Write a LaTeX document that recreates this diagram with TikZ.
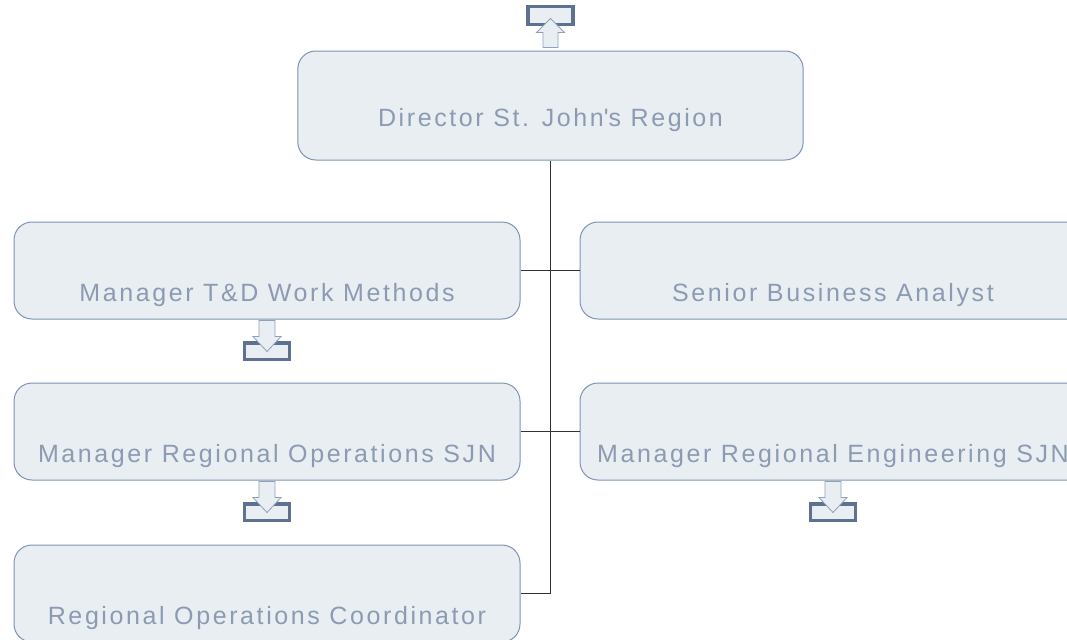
\documentclass[tikz,border=0pt]{standalone}
\usepackage{fontspec}
\setmainfont[LetterSpace=10.4]{Liberation Sans}
\definecolor{boxfill}{HTML}{E9EEF2}
\definecolor{boxline}{HTML}{7F93B5}
\definecolor{boxtext}{HTML}{8C9BB2}
\definecolor{iconline}{HTML}{5E7191}
\definecolor{arrowline}{HTML}{8FA0BA}
\definecolor{linkline}{HTML}{333333}
\tikzset{
  box/.style={draw=boxline, fill=boxfill, line width=0.75pt, rounded corners=13.5pt,
    minimum width=379.5pt, minimum height=72.75pt, text=boxtext, font=\fontsize{18.75}{22}\selectfont,
    text height=50.3pt, text depth=4pt},
  topbox/.style={box, minimum width=379pt, minimum height=81.75pt, text height=34.8pt},
  link/.style={draw=linkline, line width=0.75pt},
  downicon/.pic={
    \draw[iconline, fill=boxfill, line width=2.6pt] (-22.75,23.5) rectangle (22.75,40.2);
    \draw[arrowline, fill=boxfill, line width=0.6pt]
      (-8,1) -- (8,1) -- (8,17) -- (14,17) -- (0,32) -- (-14,17) -- (-8,17) -- cycle;
  },
  upicon/.pic={
    \draw[iconline, fill=boxfill, line width=2.6pt] (-22.5,-44.2) rectangle (22.5,-25.8);
    \draw[arrowline, fill=boxfill, line width=0.6pt]
      (-7.5,-3) -- (7.5,-3) -- (7.5,-18) -- (14,-18) -- (0,-32) -- (-14,-18) -- (-7.5,-18) -- cycle;
  }
}
\begin{document}
\begin{tikzpicture}[x=0.75pt, y=-0.75pt]
    \useasboundingbox (0,0) rectangle (1067,639);
    \clip (0,0) rectangle (1067,639);

    \node[topbox] (dir) at (550.5,105.5) {Director St. John\textquotesingle s Region};
    \node[box] (tdm)  at (267,270.5) {Manager T\&D Work Methods};
    \node[box] (sba)  at (833,270.5) {Senior Business Analyst};
    \node[box] (mro)  at (267,431.5) {Manager Regional Operations SJN};
    \node[box] (mre)  at (833,431.5) {Manager Regional Engineering SJN};
    \node[box] (roc)  at (267,593.5) {Regional Operations Coordinator};

    \draw[link] (dir.south) |- (roc.east);
    \draw[link] (tdm.east) -- (sba.west);
    \draw[link] (mro.east) -- (mre.west);

    \pic at (dir.north) {upicon};
    \pic at (tdm.south) {downicon};
    \pic at (mro.south) {downicon};
    \pic at (mre.south) {downicon};
\end{tikzpicture}
\end{document}
